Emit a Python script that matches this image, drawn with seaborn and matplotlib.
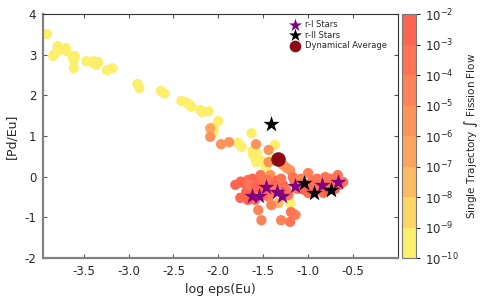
import seaborn as sns
import matplotlib
matplotlib.use("Agg")
import matplotlib.pyplot as plt
from matplotlib.colors import LogNorm, ListedColormap
import numpy as np
import pandas as pd

# trajectories: log eps(Eu), [Pd/Eu], integrated fission flow
traj_x = [-3.91, -3.84, -3.82, -3.79, -3.78, -3.70, -3.69, -3.62, -3.61, -3.60,
          -3.61, -3.47, -3.41, -3.39, -3.36, -3.34, -3.24, -3.18, -2.90, -2.88,
          -2.64, -2.60, -2.41, -2.37, -2.33, -2.30, -2.20, -2.18, -2.11, -2.00,
          -2.05, -2.05, -1.78, -1.74, -1.63, -1.37, -1.62, -1.57, -1.53, -1.40,
          -1.50, -1.58, -1.61, -1.47, -1.20, -1.33,
          -2.09, -2.09, -1.97, -1.88, -1.58, -1.44, -1.44, -1.28, -1.24, -1.20,
          -1.00, -1.42, -1.555, -1.52, -1.30, -1.14, -1.44, -1.41,
          -1.81, -1.755, -1.72, -1.67, -1.69, -1.61, -1.53, -1.52, -1.59, -1.41,
          -1.28, -1.22, -1.19, -1.67, -1.17, -1.11, -0.81, -0.67, -0.61, -0.78,
          -1.00, -0.89, -0.83, -1.05, -0.95, -0.72, -1.35, -1.48, -1.25, -0.90,
          -1.20,
          -1.75, -1.62, -1.45, -1.38, -1.30, -1.15, -1.08, -1.02, -0.98, -0.85,
          -0.75, -0.70, -0.65, -1.50, -1.40, -1.30, -1.12, -0.92, -0.80, -1.60,
          -1.65, -1.57, -1.36, -1.05, -0.88]
traj_y = [3.51, 2.97, 3.02, 3.21, 3.11, 3.16, 3.09, 2.94, 2.87, 2.97,
          2.67, 2.84, 2.82, 2.84, 2.75, 2.82, 2.62, 2.67, 2.28, 2.18,
          2.11, 2.05, 1.86, 1.84, 1.79, 1.72, 1.64, 1.59, 1.61, 1.37,
          1.22, 1.10, 0.83, 0.73, 1.07, 0.78, 0.63, 0.58, 0.41, 0.41,
          0.36, 0.36, 0.53, 0.25, -0.65, -0.65,
          1.19, 0.98, 0.80, 0.85, 0.80, 0.66, 0.36, 0.29, 0.22, 0.16,
          0.09, 0.04, -0.82, -1.07, -1.07, -0.94, -0.50, -0.70,
          -0.20, -0.52, -0.16, -0.08, -0.38, -0.16, 0.04, -0.13, -0.57, -0.16,
          -0.20, -0.45, -0.87, -0.57, -0.01, -0.16, -0.01, 0.04, -0.13, -0.25,
          -0.40, -0.33, -0.40, -0.25, -0.10, -0.15, -0.10, -0.30, -0.30, -0.05,
          -1.11,
          -0.12, -0.05, -0.08, -0.22, -0.05, -0.12, -0.05, -0.18, -0.28, -0.10,
          -0.05, -0.30, -0.20, -0.45, -0.35, -0.35, -0.30, -0.22, -0.35, -0.30,
          -0.20, -0.25, -0.28, -0.32, -0.18]
traj_flow = [3e-10] * 44 + [3e-10, 3e-8] + \
            [3e-7, 3e-6, 3e-6, 3e-6, 3e-6, 3e-6, 3e-6, 3e-6, 3e-6, 3e-6,
             3e-5, 3e-6, 3e-5, 3e-5, 3e-5, 3e-5, 3e-5, 3e-5] + \
            [3e-3, 3e-3, 3e-3, 3e-4, 3e-3, 3e-4, 3e-4, 3e-4, 3e-4, 3e-4,
             3e-3, 3e-4, 3e-4, 3e-3, 3e-4, 3e-4, 3e-4, 3e-4, 3e-4, 3e-4,
             3e-4, 3e-4, 3e-4, 3e-4, 3e-4, 3e-4, 3e-3, 3e-3, 3e-4, 3e-4,
             3e-4] + \
            [3e-3, 3e-3, 3e-4, 3e-3, 3e-4, 3e-4, 3e-5, 3e-4, 3e-3, 3e-4,
             3e-4, 3e-3, 3e-3, 3e-3, 3e-4, 3e-3, 3e-4, 3e-4, 3e-3, 3e-3,
             3e-4, 3e-3, 3e-4, 3e-3, 3e-4]

# observed stars
rI_x = [-1.62, -1.55, -1.47, -1.35, -1.29, -1.15, -0.85, -0.67]
rI_y = [-0.47, -0.47, -0.25, -0.38, -0.47, -0.23, -0.21, -0.13]
rII_x = [-1.41, -1.05, -0.94, -0.74]
rII_y = [1.30, -0.16, -0.40, -0.33]

# dynamical average
avg_x = [-1.34]
avg_y = [0.43]

# colour bins, 1e-10 (bottom) to 1e-2 (top)
bin_colors = ["#fdee6c", "#fdd466", "#fcbb60", "#fca45d",
              "#fd9358", "#fd8256", "#fd7354", "#fe6450"]

df = pd.DataFrame({"x": traj_x, "y": traj_y, "flow": traj_flow})

sns.set_style("white")

cmap = ListedColormap(bin_colors)
norm = LogNorm(1e-10, 1e-2)

fig = plt.figure(figsize=(4.8, 3.0), dpi=100)
ax = fig.add_axes([0.09, 0.14, 0.739, 0.813])
cax = fig.add_axes([0.8375, 0.14, 0.029, 0.813])

sns.scatterplot(data=df, x="x", y="y", hue="flow", hue_norm=norm, palette=cmap,
                s=55, linewidth=0, legend=False, ax=ax, zorder=2)
sns.scatterplot(x=rI_x, y=rI_y, marker="*", s=150, color="purple", linewidth=0,
                label="r-I Stars", ax=ax, zorder=4)
sns.scatterplot(x=rII_x, y=rII_y, marker="*", s=150, color="black", linewidth=0,
                label="r-II Stars", ax=ax, zorder=4)
sns.scatterplot(x=avg_x, y=avg_y, marker="o", s=110, color="#8b0a14", linewidth=0,
                label="Dynamical Average", ax=ax, zorder=5)

ax.set_xlim(-3.95, 0)
ax.set_ylim(-2, 4)
ax.set_xticks([-3.5, -3.0, -2.5, -2.0, -1.5, -1.0, -0.5])
ax.set_yticks([-2, -1, 0, 1, 2, 3, 4])
ax.set_yticklabels(["-2", "-1", "0", "1", "2", "3", "4"])
ax.set_xticklabels(["-3.5", "-3.0", "-2.5", "-2.0", "-1.5", "-1.0", "-0.5"])
ax.tick_params(direction="in", length=3, width=0.8, labelsize=8.5, color="#555555",
               top=True, right=True, bottom=True, left=True, pad=5)
ax.set_xlabel("log eps(Eu)", fontsize=9)
ax.set_ylabel("[Pd/Eu]", fontsize=9)
for side in ["left", "bottom"]:
    ax.spines[side].set_color("#808080")
    ax.spines[side].set_linewidth(1.6)
for side in ["top", "right"]:
    ax.spines[side].set_color("#333333")
    ax.spines[side].set_linewidth(0.8)

leg = ax.legend(loc="upper right", frameon=False, fontsize=6, handletextpad=0.2,
                labelspacing=0.2, borderaxespad=0.3, markerscale=0.8,
                bbox_to_anchor=(0.985, 1.0))

sm = plt.cm.ScalarMappable(norm=norm, cmap=cmap)
cbar = fig.colorbar(sm, cax=cax)
cbar.ax.minorticks_off()
cbar.ax.tick_params(labelsize=8.5, length=3, width=0.8)
cbar.outline.set_edgecolor("#777777")
cbar.set_label(r"Single Trajectory $\int$ Fission Flow", fontsize=7.5, labelpad=2)

fig.savefig("out.png", dpi=100)
